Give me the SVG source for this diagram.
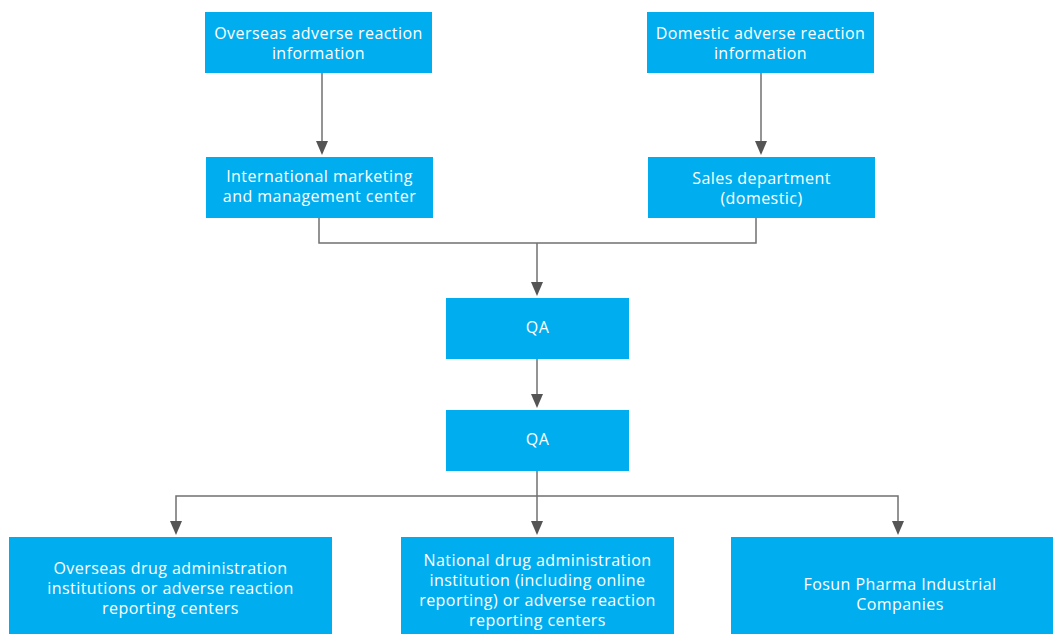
<svg xmlns="http://www.w3.org/2000/svg" width="1053" height="634" viewBox="0 0 1053 634">
<style>
.box{fill:#00AEEF}
.t{font-family:"Open Sans","Liberation Sans",sans-serif;font-size:16px;letter-spacing:0.45px;fill:#fff;text-anchor:middle}
.c{fill:none;stroke:#707070;stroke-width:1.5}
.ah{fill:#555}
</style>
<rect width="1053" height="634" fill="#fff"/>
<g id="connectors">
<path class="c" d="M322,72 V141"/>
<path class="ah" d="M316,141 L328,141 L322,155 Z"/>
<path class="c" d="M761,72 V141"/>
<path class="ah" d="M755,141 L767,141 L761,155 Z"/>
<path class="c" d="M319,218 V243 H756 V218"/>
<path class="c" d="M537,243 V282"/>
<path class="ah" d="M531,282 L543,282 L537,296 Z"/>
<path class="c" d="M537,359 V394"/>
<path class="ah" d="M531,394 L543,394 L537,408 Z"/>
<path class="c" d="M537,471 V521"/>
<path class="c" d="M176,521 V496 H898 V521"/>
<path class="ah" d="M170,521 L182,521 L176,535 Z"/>
<path class="ah" d="M531,521 L543,521 L537,535 Z"/>
<path class="ah" d="M892,521 L904,521 L898,535 Z"/>
</g>
<g id="n1"><rect class="box" x="205" y="12" width="227" height="61"/><text class="t" x="318.5" y="38.5">Overseas adverse reaction</text><text class="t" x="318.5" y="58.5">information</text></g>
<g id="n2"><rect class="box" x="647" y="12" width="227" height="61"/><text class="t" x="760.5" y="38.5">Domestic adverse reaction</text><text class="t" x="760.5" y="58.5">information</text></g>
<g id="n3"><rect class="box" x="206" y="157" width="227" height="61"/><text class="t" x="319.5" y="182">International marketing</text><text class="t" x="319.5" y="202">and management center</text></g>
<g id="n4"><rect class="box" x="648" y="157" width="227" height="61"/><text class="t" x="761.5" y="183.5">Sales department</text><text class="t" x="761.5" y="203.5">(domestic)</text></g>
<g id="n5"><rect class="box" x="446" y="298" width="183" height="61"/><text class="t" x="537.5" y="332.5">QA</text></g>
<g id="n6"><rect class="box" x="446" y="410" width="183" height="61"/><text class="t" x="537.5" y="444.5">QA</text></g>
<g id="n7"><rect class="box" x="9" y="537" width="323" height="97"/><text class="t" x="170.5" y="573.5">Overseas drug administration</text><text class="t" x="170.5" y="593.5">institutions or adverse reaction</text><text class="t" x="170.5" y="613.5">reporting centers</text></g>
<g id="n8"><rect class="box" x="401" y="537" width="273" height="97"/><text class="t" x="537.5" y="565.5">National drug administration</text><text class="t" x="537.5" y="585.5">institution (including online</text><text class="t" x="537.5" y="605.5">reporting) or adverse reaction</text><text class="t" x="537.5" y="625.5">reporting centers</text></g>
<g id="n9"><rect class="box" x="731" y="537" width="322" height="97"/><text class="t" x="900" y="589.5">Fosun Pharma Industrial</text><text class="t" x="900" y="609.5">Companies</text></g>
</svg>
